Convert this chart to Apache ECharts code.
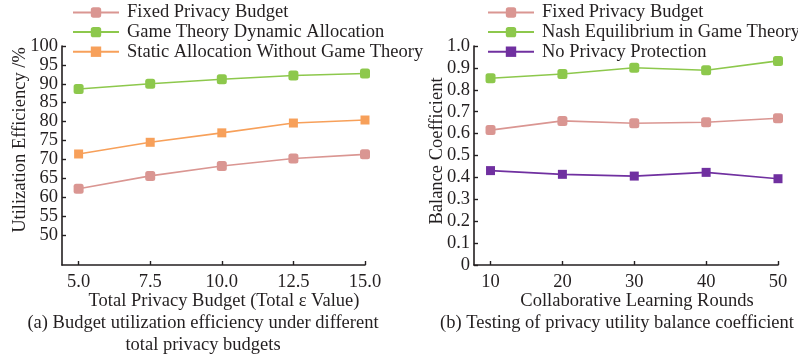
<!DOCTYPE html>
<html>
<head>
<meta charset="utf-8">
<script src="https://cdn.jsdelivr.net/npm/echarts@6/dist/echarts.min.js"></script>
<style>
  html, body { margin: 0; padding: 0; background: #fff; }
  #chart { width: 798px; height: 358px; }
</style>
</head>
<body>
<div id="chart"></div>
<script>
// Panel (a): utilization efficiency vs. total privacy budget
const budgetTicks = [5.0, 7.5, 10.0, 12.5, 15.0];
const efficiencyTicks = [50, 55, 60, 65, 70, 75, 80, 85, 90, 95, 100];
const fixedBudget = [62.2, 65.6, 68.2, 70.2, 71.3];
const gameDynamic = [88.6, 90.0, 91.2, 92.2, 92.7];
const staticNoGame = [71.4, 74.5, 77.0, 79.6, 80.4];

// Panel (b): balance coefficient vs. collaborative rounds
const rounds = [10, 20, 30, 40, 50];
const fixedBalance = [0.616, 0.658, 0.647, 0.652, 0.670];
const nashBalance = [0.853, 0.872, 0.901, 0.889, 0.932];
const noPrivacy = [0.431, 0.414, 0.406, 0.423, 0.394];

const FONT = '"Liberation Serif", "Times New Roman", serif';
const FS = 18.5;
const TXT = '#231f20';
const PINK = '#da9692';
const GREEN = '#8dc84c';
const ORANGE = '#f7a05a';
const PURPLE = '#7030a0';

const pairs = (xs, ys) => xs.map((x, i) => [x, ys[i]]);

const axisCommon = {
  axisLine: { show: true, onZero: false, lineStyle: { color: TXT, width: 1.6 } },
  axisTick: { show: true, inside: true, length: 4, lineStyle: { color: TXT, width: 1.4 } },
  axisLabel: { color: TXT, fontFamily: FONT, fontSize: FS },
  splitLine: { show: false }
};

function lineSeries(name, data, color, xi, symbol, size) {
  return {
    name, type: 'line', xAxisIndex: xi, yAxisIndex: xi,
    data, symbol, symbolSize: size, showSymbol: true,
    lineStyle: { color, width: 1.6 },
    itemStyle: { color },
    animation: false
  };
}

const legendText = { color: TXT, fontFamily: FONT, fontSize: FS, lineHeight: 18, padding: [0, 0, 0, 3] };

const chart = echarts.init(document.getElementById('chart'), null, { renderer: 'canvas' });

const caption = (text, x, y) => ({
  type: 'text', x, y,
  style: { text, fill: TXT, font: FS + 'px ' + FONT, align: 'center', verticalAlign: 'middle' }
});

chart.setOption({
  animation: false,
  backgroundColor: '#fff',
  grid: [
    { left: 62, top: 46, width: 303, height: 219 },
    { left: 474, top: 46, width: 304, height: 219 }
  ],
  xAxis: [
    Object.assign({}, axisCommon, {
      type: 'value', gridIndex: 0, min: 4.42, max: 15,
      axisLabel: Object.assign({}, axisCommon.axisLabel, {
        customValues: budgetTicks, margin: 8,
        formatter: v => v.toFixed(1)
      }),
      axisTick: Object.assign({}, axisCommon.axisTick, { customValues: budgetTicks })
    }),
    Object.assign({}, axisCommon, {
      type: 'value', gridIndex: 1, min: 7.7, max: 50,
      axisLabel: Object.assign({}, axisCommon.axisLabel, {
        customValues: rounds, margin: 8
      }),
      axisTick: Object.assign({}, axisCommon.axisTick, { customValues: rounds })
    })
  ],
  yAxis: [
    Object.assign({}, axisCommon, {
      type: 'value', gridIndex: 0, min: 42, max: 100,
      axisLabel: Object.assign({}, axisCommon.axisLabel, {
        customValues: efficiencyTicks, margin: 4
      }),
      axisTick: Object.assign({}, axisCommon.axisTick, { customValues: efficiencyTicks })
    }),
    Object.assign({}, axisCommon, {
      type: 'value', gridIndex: 1, min: 0, max: 1, interval: 0.1,
      axisLabel: Object.assign({}, axisCommon.axisLabel, {
        margin: 4,
        formatter: v => (v === 0 ? '0' : v.toFixed(1))
      })
    })
  ],
  legend: [
    {
      orient: 'vertical', left: 72, top: 3, padding: 0,
      itemWidth: 46, itemHeight: 13, itemGap: 0.6,
      data: ['Fixed Privacy Budget', 'Game Theory Dynamic Allocation', 'Static Allocation Without Game Theory'],
      textStyle: legendText,
      selectedMode: false
    },
    {
      orient: 'vertical', left: 487, top: 3, padding: 0,
      itemWidth: 46, itemHeight: 13, itemGap: 0.6,
      data: ['Fixed Privacy Budget ', 'Nash Equilibrium in Game Theory', 'No Privacy Protection'],
      textStyle: legendText,
      selectedMode: false
    }
  ],
  series: [
    lineSeries('Fixed Privacy Budget', pairs(budgetTicks, fixedBudget), PINK, 0, 'roundRect', 10),
    lineSeries('Game Theory Dynamic Allocation', pairs(budgetTicks, gameDynamic), GREEN, 0, 'roundRect', 10),
    lineSeries('Static Allocation Without Game Theory', pairs(budgetTicks, staticNoGame), ORANGE, 0, 'rect', 9),
    lineSeries('Fixed Privacy Budget ', pairs(rounds, fixedBalance), PINK, 1, 'roundRect', 10),
    lineSeries('Nash Equilibrium in Game Theory', pairs(rounds, nashBalance), GREEN, 1, 'roundRect', 10),
    lineSeries('No Privacy Protection', pairs(rounds, noPrivacy), PURPLE, 1, 'rect', 9)
  ],
  graphic: [
    { type: 'text', x: 20, y: 140, rotation: Math.PI / 2,
      style: { text: 'Utilization Efficiency /%', fill: TXT, font: FS + 'px ' + FONT, align: 'center', verticalAlign: 'middle' } },
    { type: 'text', x: 437, y: 151, rotation: Math.PI / 2,
      style: { text: 'Balance Coefficient', fill: TXT, font: FS + 'px ' + FONT, align: 'center', verticalAlign: 'middle' } },
    caption('Total Privacy Budget (Total \u03b5 Value)', 224, 301),
    caption('(a) Budget utilization efficiency under different', 203, 323),
    caption('total privacy budgets', 203, 345),
    caption('Collaborative Learning Rounds', 637, 301),
    caption('(b) Testing of privacy utility balance coefficient', 617, 323)
  ]
});
</script>
</body>
</html>
